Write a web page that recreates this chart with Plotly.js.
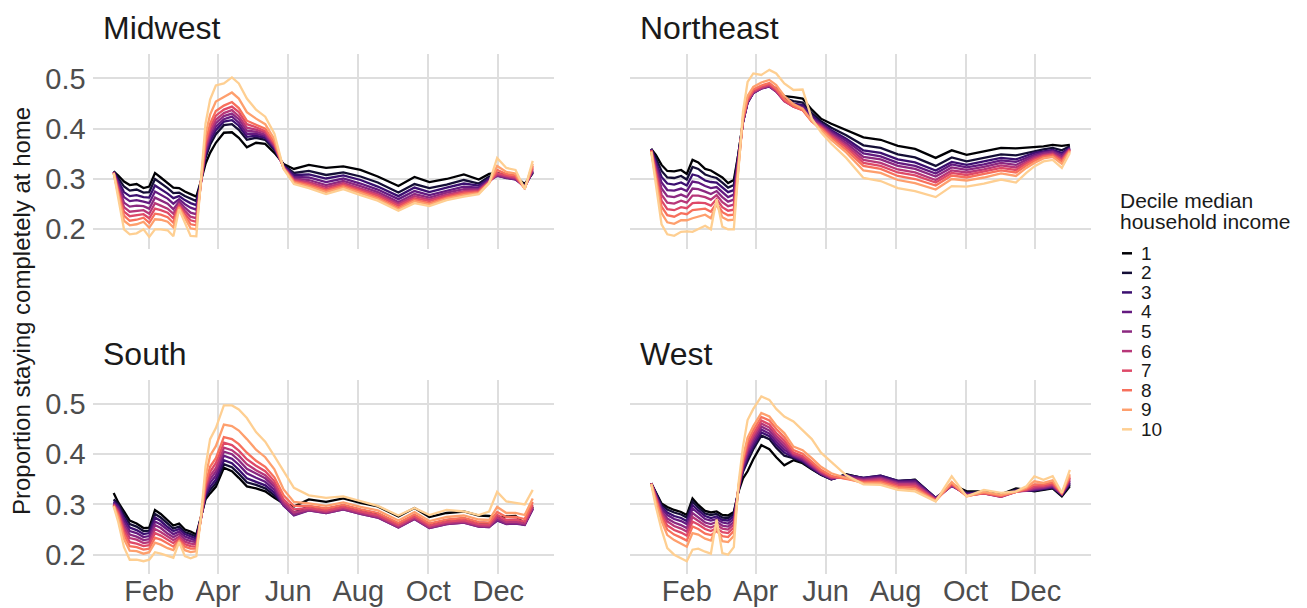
<!DOCTYPE html>
<html>
<head>
<meta charset="utf-8">
<script src="https://cdn.plot.ly/plotly-3.0.1.min.js"></script>
<style>
  html, body { margin: 0; padding: 0; background: #ffffff; }
  #chart { width: 1307px; height: 608px; }
</style>
</head>
<body>
<div id="chart"></div>
<script>
// ---- Data ----
const dates = ['2020-01-01','2020-01-05','2020-01-10','2020-01-15','2020-01-21','2020-01-27','2020-02-01','2020-02-06','2020-02-11','2020-02-17','2020-02-22','2020-02-27','2020-03-03','2020-03-08','2020-03-13','2020-03-17','2020-03-21','2020-03-25','2020-03-30','2020-04-06','2020-04-13','2020-04-19','2020-04-26','2020-05-04','2020-05-12','2020-05-20','2020-05-28','2020-06-06','2020-06-19','2020-07-04','2020-07-19','2020-08-03','2020-08-18','2020-09-05','2020-09-19','2020-10-02','2020-10-17','2020-11-01','2020-11-14','2020-11-23','2020-11-30','2020-12-08','2020-12-16','2020-12-24','2020-12-31'];

const regions = ['Midwest', 'Northeast', 'South', 'West'];
const deciles = ['1','2','3','4','5','6','7','8','9','10'];
const decileColors = ['#000004','#140E36','#3B0F70','#641A80','#8C2981','#B73779','#DE4968','#F7705C','#FE9F6D','#FECF92'];

const xTickVals = ['2020-02-01','2020-04-01','2020-06-01','2020-08-01','2020-10-01','2020-12-01'];
const xTickText = ['Feb','Apr','Jun','Aug','Oct','Dec'];
const yTickVals = [0.2, 0.3, 0.4, 0.5];
const yTickText = ['0.2','0.3','0.4','0.5'];

// one row per decile (1 .. 10), one value per date
const midwest = [
 [.315,.307,.295,.288,.29,.282,.285,.312,.303,.292,.283,.282,.275,.27,.265,.296,.33,.352,.372,.392,.393,.382,.363,.372,.37,.352,.33,.32,.328,.322,.325,.318,.305,.286,.304,.294,.3,.309,.299,.31,.312,.307,.305,.29,.312],
 [.315,.302,.285,.277,.279,.273,.274,.3,.292,.282,.272,.273,.266,.261,.256,.295,.342,.368,.389,.407,.409,.398,.378,.382,.378,.358,.328,.312,.316,.308,.313,.305,.293,.273,.29,.282,.289,.298,.291,.305,.309,.303,.301,.288,.313],
 [.314,.297,.274,.266,.268,.264,.263,.287,.28,.271,.262,.266,.258,.252,.248,.294,.348,.375,.397,.414,.417,.406,.384,.386,.382,.36,.326,.308,.309,.301,.307,.298,.285,.266,.283,.274,.283,.291,.287,.301,.307,.302,.3,.286,.314],
 [.314,.291,.264,.256,.258,.255,.252,.275,.269,.261,.251,.26,.25,.243,.239,.293,.352,.382,.404,.419,.424,.412,.39,.39,.385,.363,.325,.304,.303,.294,.301,.291,.279,.26,.276,.268,.277,.285,.283,.298,.306,.302,.299,.285,.315],
 [.313,.286,.253,.245,.247,.246,.241,.263,.258,.251,.24,.255,.243,.233,.23,.293,.357,.388,.411,.425,.43,.419,.396,.394,.388,.365,.324,.301,.298,.288,.296,.286,.274,.254,.27,.263,.273,.28,.28,.296,.307,.303,.3,.284,.317],
 [.313,.282,.244,.235,.237,.238,.231,.252,.247,.241,.231,.25,.237,.225,.222,.293,.362,.394,.418,.431,.437,.425,.402,.398,.392,.367,.323,.299,.294,.284,.292,.281,.27,.25,.266,.259,.269,.276,.278,.295,.309,.305,.302,.283,.32],
 [.313,.277,.235,.226,.228,.23,.222,.241,.238,.233,.222,.247,.231,.218,.215,.294,.368,.402,.426,.438,.444,.433,.409,.403,.395,.37,.322,.297,.291,.28,.289,.278,.267,.247,.262,.256,.266,.274,.276,.294,.312,.307,.304,.282,.323],
 [.312,.273,.227,.217,.219,.223,.213,.231,.229,.224,.213,.245,.226,.21,.208,.295,.374,.41,.435,.446,.453,.441,.416,.408,.4,.373,.322,.295,.288,.277,.286,.275,.263,.243,.259,.252,.263,.271,.274,.293,.318,.31,.307,.281,.326],
 [.312,.268,.217,.208,.21,.215,.203,.22,.219,.215,.204,.243,.221,.202,.2,.297,.388,.428,.454,.463,.472,.46,.433,.42,.409,.379,.321,.293,.285,.274,.283,.272,.26,.24,.256,.249,.261,.268,.272,.292,.326,.314,.311,.281,.33],
 [.312,.26,.2,.19,.192,.2,.185,.2,.2,.198,.186,.24,.215,.187,.186,.3,.41,.458,.486,.49,.502,.49,.46,.438,.424,.39,.32,.29,.282,.27,.28,.268,.257,.237,.252,.246,.258,.265,.27,.292,.342,.322,.318,.28,.336]
];

const northeast = [
 [.36,.348,.328,.316,.315,.318,.31,.338,.333,.32,.317,.31,.303,.292,.298,.35,.414,.454,.475,.483,.487,.48,.465,.463,.46,.438,.42,.41,.398,.383,.378,.366,.36,.342,.357,.348,.355,.362,.361,.362,.364,.365,.368,.366,.368],
 [.36,.342,.316,.303,.302,.306,.299,.324,.32,.309,.305,.302,.293,.283,.288,.347,.413,.452,.472,.481,.485,.477,.461,.455,.452,.431,.415,.402,.387,.367,.362,.349,.343,.326,.343,.335,.342,.349,.347,.352,.356,.359,.362,.357,.365],
 [.359,.336,.304,.291,.289,.293,.287,.309,.306,.297,.294,.293,.283,.274,.278,.344,.413,.452,.471,.48,.484,.475,.458,.45,.447,.426,.411,.397,.38,.357,.352,.339,.333,.317,.334,.328,.335,.342,.339,.346,.352,.355,.358,.352,.362],
 [.359,.331,.293,.278,.277,.281,.276,.295,.293,.286,.282,.284,.274,.264,.269,.341,.414,.453,.471,.48,.484,.474,.456,.447,.443,.422,.409,.394,.376,.351,.345,.332,.326,.311,.329,.323,.329,.337,.334,.342,.348,.353,.356,.348,.361],
 [.358,.325,.281,.266,.264,.269,.264,.281,.28,.275,.27,.276,.264,.255,.259,.338,.415,.454,.472,.48,.485,.474,.455,.445,.44,.419,.407,.391,.371,.344,.339,.326,.32,.305,.323,.318,.324,.332,.328,.338,.345,.351,.354,.345,.36],
 [.357,.319,.269,.253,.251,.257,.253,.267,.267,.264,.259,.268,.254,.246,.249,.335,.416,.455,.473,.481,.486,.475,.455,.444,.438,.416,.405,.388,.367,.338,.332,.319,.313,.298,.317,.313,.319,.327,.323,.334,.342,.348,.351,.341,.359],
 [.357,.313,.257,.24,.238,.244,.242,.252,.253,.252,.247,.26,.244,.237,.239,.332,.418,.457,.475,.483,.488,.477,.456,.444,.437,.415,.403,.385,.363,.332,.326,.313,.307,.293,.312,.308,.315,.322,.318,.331,.339,.346,.349,.338,.358],
 [.356,.307,.245,.228,.225,.232,.23,.238,.24,.241,.235,.252,.234,.228,.229,.329,.42,.46,.478,.486,.491,.48,.459,.445,.437,.414,.401,.382,.358,.326,.32,.306,.3,.287,.307,.303,.31,.317,.313,.327,.336,.344,.347,.335,.357],
 [.355,.301,.232,.214,.211,.218,.218,.222,.225,.229,.222,.25,.224,.218,.219,.325,.424,.465,.483,.492,.497,.487,.465,.449,.44,.415,.398,.378,.353,.317,.312,.298,.292,.279,.3,.297,.303,.311,.306,.322,.332,.341,.344,.33,.355],
 [.354,.29,.21,.19,.187,.195,.196,.195,.2,.207,.2,.26,.205,.2,.2,.32,.434,.493,.51,.507,.517,.51,.49,.477,.478,.42,.393,.37,.342,.302,.296,.282,.276,.264,.286,.285,.291,.299,.293,.312,.325,.335,.338,.322,.352]
];

const south = [
 [.323,.304,.286,.268,.262,.253,.254,.289,.281,.268,.258,.262,.25,.246,.24,.275,.31,.322,.335,.373,.366,.353,.336,.332,.326,.313,.302,.296,.31,.305,.312,.303,.296,.276,.293,.275,.283,.286,.278,.277,.274,.276,.277,.262,.296],
 [.31,.301,.28,.261,.256,.247,.248,.281,.274,.262,.252,.256,.245,.241,.236,.274,.314,.329,.342,.38,.374,.361,.344,.339,.332,.318,.3,.284,.296,.291,.298,.289,.282,.262,.279,.261,.269,.272,.264,.263,.27,.266,.267,.262,.293],
 [.306,.297,.273,.254,.249,.241,.243,.274,.267,.255,.247,.251,.241,.236,.232,.273,.318,.335,.349,.388,.382,.369,.352,.345,.338,.323,.298,.279,.29,.285,.292,.283,.276,.256,.273,.255,.263,.266,.258,.257,.268,.262,.263,.26,.291],
 [.303,.294,.267,.247,.243,.235,.237,.266,.26,.249,.241,.246,.236,.232,.228,.272,.322,.343,.357,.397,.391,.379,.362,.353,.345,.329,.298,.278,.288,.283,.29,.281,.274,.254,.271,.253,.261,.264,.256,.255,.268,.261,.262,.259,.291],
 [.301,.29,.26,.24,.236,.229,.231,.259,.253,.242,.235,.241,.231,.227,.225,.272,.327,.35,.365,.405,.4,.388,.371,.361,.352,.335,.3,.28,.288,.283,.29,.281,.274,.254,.271,.253,.261,.264,.256,.255,.27,.262,.263,.26,.292],
 [.3,.286,.254,.233,.23,.223,.225,.251,.245,.236,.229,.236,.226,.222,.221,.272,.331,.357,.372,.413,.408,.397,.38,.368,.358,.34,.305,.284,.29,.285,.292,.283,.276,.256,.273,.255,.263,.266,.258,.257,.274,.265,.266,.262,.295],
 [.299,.283,.247,.225,.222,.217,.219,.243,.238,.229,.223,.232,.221,.217,.216,.272,.336,.365,.382,.423,.418,.407,.39,.377,.366,.346,.31,.29,.293,.288,.295,.286,.279,.259,.276,.258,.266,.269,.261,.26,.279,.269,.27,.266,.299],
 [.298,.279,.24,.217,.215,.21,.212,.234,.23,.222,.216,.228,.216,.212,.212,.273,.342,.375,.392,.434,.43,.42,.403,.387,.375,.354,.318,.297,.297,.292,.299,.29,.283,.263,.28,.262,.27,.273,.265,.264,.285,.275,.275,.271,.305],
 [.297,.274,.231,.208,.207,.202,.205,.224,.22,.213,.209,.226,.209,.205,.207,.274,.355,.397,.416,.459,.456,.447,.43,.409,.394,.37,.33,.305,.302,.297,.304,.295,.288,.268,.285,.267,.275,.278,.27,.269,.295,.283,.283,.279,.312],
 [.296,.265,.215,.19,.19,.187,.19,.205,.202,.197,.194,.225,.197,.193,.197,.275,.375,.43,.452,.497,.497,.489,.472,.444,.425,.396,.365,.333,.318,.313,.316,.306,.297,.278,.293,.279,.289,.286,.279,.286,.325,.306,.303,.3,.329]
];

const west = [
 [.342,.325,.302,.295,.289,.285,.279,.312,.299,.287,.284,.286,.279,.278,.285,.325,.352,.366,.39,.418,.41,.394,.378,.388,.382,.37,.359,.35,.36,.352,.356,.346,.349,.312,.34,.326,.326,.32,.332,.329,.326,.329,.332,.316,.336],
 [.342,.323,.299,.29,.284,.28,.274,.306,.294,.282,.279,.281,.274,.273,.281,.327,.365,.386,.41,.437,.43,.413,.397,.392,.384,.371,.359,.35,.359,.353,.357,.347,.349,.313,.338,.324,.325,.318,.33,.328,.327,.33,.333,.318,.339],
 [.342,.321,.295,.284,.277,.273,.267,.299,.288,.277,.273,.276,.269,.268,.276,.328,.368,.393,.416,.443,.436,.419,.403,.394,.386,.372,.36,.35,.358,.353,.357,.347,.348,.313,.337,.322,.324,.317,.328,.327,.328,.331,.334,.319,.342],
 [.342,.319,.292,.279,.271,.267,.261,.292,.282,.271,.268,.271,.264,.262,.271,.329,.372,.399,.422,.449,.441,.425,.409,.396,.388,.374,.361,.351,.357,.352,.355,.345,.346,.312,.337,.32,.323,.316,.327,.327,.329,.332,.335,.32,.344],
 [.342,.317,.287,.272,.264,.259,.253,.283,.275,.264,.261,.265,.258,.256,.265,.33,.376,.405,.428,.455,.447,.431,.415,.398,.39,.376,.362,.352,.355,.35,.353,.343,.343,.311,.338,.319,.322,.315,.326,.327,.331,.333,.337,.321,.347],
 [.342,.315,.283,.266,.257,.252,.246,.275,.268,.258,.254,.259,.252,.25,.26,.331,.38,.411,.434,.461,.453,.436,.421,.4,.393,.378,.364,.353,.353,.348,.351,.341,.34,.31,.339,.318,.322,.315,.325,.328,.333,.335,.339,.321,.35],
 [.341,.312,.279,.258,.249,.244,.238,.266,.26,.251,.247,.253,.245,.243,.254,.332,.384,.417,.44,.467,.459,.442,.427,.403,.396,.381,.366,.355,.352,.346,.348,.338,.337,.309,.34,.317,.322,.316,.325,.329,.336,.337,.341,.322,.353],
 [.341,.309,.273,.25,.24,.234,.228,.256,.251,.242,.239,.247,.237,.235,.247,.333,.389,.425,.448,.474,.467,.45,.434,.408,.401,.385,.369,.357,.351,.344,.345,.335,.333,.308,.342,.317,.323,.317,.325,.331,.34,.34,.344,.322,.356],
 [.341,.305,.267,.239,.229,.222,.216,.243,.24,.232,.228,.255,.227,.225,.237,.335,.394,.433,.456,.482,.475,.457,.442,.415,.408,.392,.375,.362,.352,.342,.342,.332,.33,.307,.345,.316,.325,.319,.325,.333,.346,.343,.348,.323,.36],
 [.34,.296,.25,.213,.2,.193,.187,.21,.212,.206,.202,.27,.203,.2,.215,.34,.415,.468,.49,.515,.508,.49,.475,.465,.448,.43,.403,.385,.358,.34,.339,.329,.326,.306,.356,.316,.329,.323,.326,.336,.356,.349,.356,.323,.369]
];

const regionData = [midwest, northeast, south, west];

// ---- Layout geometry (pixels of the 1307 x 608 page) ----
const W = 1307, H = 608;
const px = v => v / W;
const py = v => 1 - v / H;
const colDomains = [[px(92.7), px(553.7)], [px(630.3), px(1090.8)]];
const rowDomains = [[py(248.9), py(54.3)], [py(574.3), py(379.8)]];
const FONT = 'Liberation Sans, Arial, Helvetica, sans-serif';

const traces = [];
regionData.forEach((series, ri) => {
  const suffix = ri === 0 ? '' : String(ri + 1);
  series.forEach((vals, di) => {
    traces.push({
      x: dates,
      y: vals,
      type: 'scatter',
      mode: 'lines',
      name: deciles[di],
      line: { color: decileColors[di], width: 2.3 },
      xaxis: 'x' + suffix,
      yaxis: 'y' + suffix,
      showlegend: false,
      hoverinfo: 'skip'
    });
  });
});

const layout = {
  width: W, height: H,
  margin: { l: 0, r: 0, t: 0, b: 0, pad: 0 },
  paper_bgcolor: '#ffffff',
  plot_bgcolor: '#ffffff',
  showlegend: false,
  font: { family: FONT, color: '#1A1A1A' },
  annotations: [],
  shapes: []
};

const xRange = ['2019-12-13 18:00', '2021-01-18 06:00'];
const yRange = [0.161, 0.548];
for (let ri = 0; ri < 4; ri++) {
  const col = ri % 2, row = Math.floor(ri / 2);
  const suffix = ri === 0 ? '' : String(ri + 1);
  layout['xaxis' + suffix] = {
    type: 'date', domain: colDomains[col], anchor: 'y' + suffix, range: xRange,
    tickmode: 'array', tickvals: xTickVals, ticktext: xTickText,
    showticklabels: row === 1, ticks: '', ticklabelstandoff: -3,
    tickfont: { family: FONT, size: 29, color: '#4D4D4D' },
    showgrid: true, gridcolor: '#DEDEDE', gridwidth: 2,
    zeroline: false, showline: false, fixedrange: true
  };
  layout['yaxis' + suffix] = {
    domain: rowDomains[row], anchor: 'x' + suffix, range: yRange,
    tickmode: 'array', tickvals: yTickVals, ticktext: yTickText,
    showticklabels: col === 0, ticks: '', ticklabelstandoff: 6,
    tickfont: { family: FONT, size: 29, color: '#4D4D4D' },
    showgrid: true, gridcolor: '#DEDEDE', gridwidth: 2,
    zeroline: false, showline: false, fixedrange: true
  };
}

// facet titles
const stripPos = [[101, 28], [638, 28], [101, 354], [638, 354]];
regions.forEach((r, i) => {
  layout.annotations.push({
    text: r, xref: 'paper', yref: 'paper', x: px(stripPos[i][0]), y: py(stripPos[i][1]),
    xanchor: 'left', yanchor: 'middle', showarrow: false,
    font: { family: FONT, size: 32, color: '#1A1A1A' }
  });
});

// shared y-axis title
layout.annotations.push({
  text: 'Proportion staying completely at home', xref: 'paper', yref: 'paper',
  x: px(21), y: py(311), xanchor: 'center', yanchor: 'middle', textangle: -90,
  showarrow: false, font: { family: FONT, size: 24, color: '#1A1A1A' }
});

// legend (title, keys, labels)
layout.annotations.push({
  text: 'Decile median', xref: 'paper', yref: 'paper', x: px(1118), y: py(200),
  xanchor: 'left', yanchor: 'middle', showarrow: false,
  font: { family: FONT, size: 21, color: '#1A1A1A' }
});
layout.annotations.push({
  text: 'household income', xref: 'paper', yref: 'paper', x: px(1118), y: py(222),
  xanchor: 'left', yanchor: 'middle', showarrow: false,
  font: { family: FONT, size: 21, color: '#1A1A1A' }
});
deciles.forEach((d, i) => {
  const yc = 253.3 + i * 19.56;
  layout.shapes.push({
    type: 'line', xref: 'paper', yref: 'paper',
    x0: px(1122), x1: px(1132), y0: py(yc), y1: py(yc),
    line: { color: decileColors[i], width: 2.5 }
  });
  layout.annotations.push({
    text: d, xref: 'paper', yref: 'paper', x: px(1139), y: py(yc),
    xanchor: 'left', yanchor: 'middle', showarrow: false,
    font: { family: FONT, size: 19, color: '#1A1A1A' }
  });
});

Plotly.newPlot('chart', traces, layout, { staticPlot: true, displayModeBar: false });
</script>
</body>
</html>
